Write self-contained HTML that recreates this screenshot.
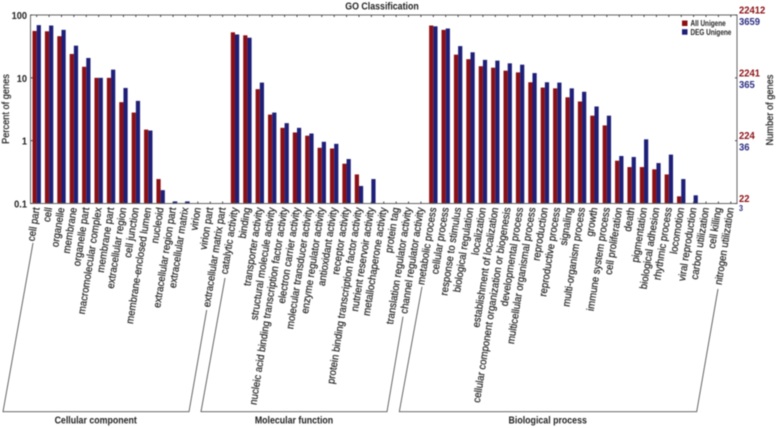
<!DOCTYPE html>
<html>
<head>
<meta charset="utf-8">
<title>GO Classification</title>
<style>
html,body{margin:0;padding:0;background:#fff;width:778px;height:428px;overflow:hidden}
svg{display:block;filter:blur(0.4px)}
text{font-family:"Liberation Sans",sans-serif;fill:#222}
</style>
</head>
<body>
<svg id="chart" xmlns="http://www.w3.org/2000/svg" width="778" height="428" viewBox="0 0 778 428"></svg>
<script>
const categories = ["cell part","cell","organelle","membrane","organelle part","macromolecular complex","membrane part","extracellular region","cell junction","membrane-enclosed lumen","nucleoid","extracellular region part","extracellular matrix","virion","virion part","extracellular matrix part","catalytic activity","binding","transporter activity","structural molecule activity","nucleic acid binding transcription factor activity","electron carrier activity","molecular transducer activity","enzyme regulator activity","antioxidant activity","receptor activity","protein binding transcription factor activity","nutrient reservoir activity","metallochaperone activity","protein tag","translation regulator activity","channel regulator activity","metabolic process","cellular process","response to stimulus","biological regulation","localization","establishment of localization","cellular component organization or biogenesis","developmental process","multicellular organismal process","reproduction","reproductive process","signaling","multi-organism process","growth","immune system process","cell proliferation","death","pigmentation","biological adhesion","rhythmic process","locomotion","viral reproduction","carbon utilization","cell killing","nitrogen utilization"];
const allUnigene = [55.7,55,46,24,15,10,10,4.1,2.8,1.5,0.245,null,null,null,null,null,53,47.5,6.6,2.6,1.6,1.35,1.2,0.77,0.75,0.43,0.29,null,null,null,null,null,68,58,23.4,19.8,15.3,14.5,13,12.2,8.5,7,6.8,4.9,4.2,2.5,1.75,0.48,0.38,0.38,0.35,0.29,0.13,null,null,null,null];
const degUnigene = [69,68,58,32.5,20.7,10,13.5,6.9,4.3,1.45,0.163,0.108,0.108,null,null,null,49,43.5,8.4,2.8,1.9,1.6,1.3,0.96,0.89,0.51,0.19,0.245,null,null,null,null,66,61,32,25.5,19.3,18.8,17,16.2,11.9,8.5,8.4,6.8,6,3.5,2.5,0.57,0.55,1.05,0.44,0.6,0.245,0.135,null,null,null];
const percentTicks = [100,10,1,0.1];
const percentTickLabels = ["100","10","1","0.1"];
const allCountLabels = ["22412","2241","224","22"];
const degCountLabels = ["3659","365","36","3"];
const seriesNames = ["All Unigene","DEG Unigene"];

const NS = "http://www.w3.org/2000/svg";
const svg = document.getElementById("chart");
const RED = "#8b0f14", BLUE = "#1d1f78", AXIS = "#666";
const plotL = 30.5, plotR = 737, plotT = 15, plotB = 203.5;
const xStep = (plotR - plotL) / categories.length;
const barW = 4.2;
function xCenter(i){ return plotL + xStep * (i + 0.5); }
function yScale(v){ return plotB - (Math.log10(v) + 1) * (plotB - plotT) / 3; }
function make(tag, attrs, text){
  const el = document.createElementNS(NS, tag);
  for (const k in attrs) el.setAttribute(k, attrs[k]);
  if (text !== undefined) el.textContent = text;
  svg.appendChild(el);
  return el;
}

// bars
categories.forEach(function(c, i){
  if (allUnigene[i] !== null) {
    const y = yScale(allUnigene[i]);
    const bar = make("rect", {x: xCenter(i) - barW, y: y, width: barW, height: plotB - y, fill: RED});
    
    
  }
  if (degUnigene[i] !== null) {
    const y = yScale(degUnigene[i]);
    const bar = make("rect", {x: xCenter(i), y: y, width: barW, height: plotB - y, fill: BLUE});
    
    
  }
});

// frame
const frame = make("rect", {x: plotL, y: plotT, width: plotR - plotL, height: plotB - plotT, fill: "none", stroke: AXIS, "stroke-width": 1});



// category ticks and labels
categories.forEach(function(c, i){
  const x = xCenter(i);
  const t1 = make("line", {x1: x, x2: x, y1: plotT, y2: plotT + 2, stroke: "#444", "stroke-width": 1});
  
  
  const t2 = make("line", {x1: x, x2: x, y1: plotB, y2: plotB - 2, stroke: "#444", "stroke-width": 1});
  
  
  const lab = make("text", {
    transform: "translate(" + (x + 3) + ",208) rotate(-81) scale(0.925,1)",
    "text-anchor": "end", "font-size": 10.5, "font-weight": 400, stroke: "#222", "stroke-width": 0.2
  }, c);
  
  
});

// y axis ticks & labels
percentTicks.forEach(function(v, i){
  const y = yScale(v);
  const t = make("line", {x1: plotL, x2: plotL + 2, y1: y, y2: y, stroke: "#444"});
  
  
  const r = make("line", {x1: plotR, x2: plotR - 2, y1: y, y2: y, stroke: "#444"});
  
  
  const l = make("text", {x: 27, y: y + 4, "text-anchor": "end", "font-size": 10.5, "font-weight": 700, transform: "translate(" + (27 * 0.12) + ",0) scale(0.88,1)"}, percentTickLabels[i]);
  
  
  const a = make("text", {transform: "translate(739," + (y - 1.5) + ") scale(0.9,1)", "font-size": 10.5, "font-weight": 700, style: "fill:" + RED}, allCountLabels[i]);
  
  
  const small = i === 3;
  const d = make("text", {transform: "translate(739," + (y + (small ? 7.5 : 10) ) + ") scale(0.9,1)", "font-size": small ? 8 : 10.5, "font-weight": 700, style: "fill:#2a2c80"}, degCountLabels[i]);
  
  
});

// titles
const title = make("text", {transform: "translate(382,9.5) scale(0.84,1)", "text-anchor": "middle", "font-size": 10.5, "font-weight": 700}, "GO Classification");


const yTitle = make("text", {transform: "translate(9,109) rotate(-90) scale(0.88,1)", "text-anchor": "middle", "font-size": 10.5, "font-weight": 400, stroke: "#222", "stroke-width": 0.2}, "Percent of genes");


const y2Title = make("text", {transform: "translate(773,110) rotate(-90) scale(0.88,1)", "text-anchor": "middle", "font-size": 10.5, "font-weight": 400, stroke: "#222", "stroke-width": 0.2}, "Number of genes");



// legend
seriesNames.forEach(function(n, i){
  const y = 20.5 + i * 8.7;
  const s = make("rect", {x: 682, y: y, width: 5.5, height: 5.5, fill: i ? BLUE : RED});
  
  
  const l = make("text", {transform: "translate(690.5," + (y + 5.6) + ") scale(0.8,1)", "font-size": 8, "font-weight": 700}, n);
  
  
});

// group brackets
const bracketGroups = ["Cellular component","Molecular function","Biological process"];
const bracketShapes = ["33,243 3,411.7 189,411.7 206.7,310","225,278 201,411.7 387,411.7 403,316.7","422,286.7 399.3,411.7 696.7,411.7 718,289"];
const bracketLabelX = [95.7,294,547.7];
bracketGroups.forEach(function(g, i){
  const b = make("polyline", {points: bracketShapes[i], fill: "none", stroke: "#555", "stroke-width": 0.9});
  
  
  const l = make("text", {transform: "translate(" + bracketLabelX[i] + ",423.5) scale(0.84,1)", "text-anchor": "middle", "font-size": 10.5, "font-weight": 700}, g);
  
  
});
</script>
</body>
</html>
